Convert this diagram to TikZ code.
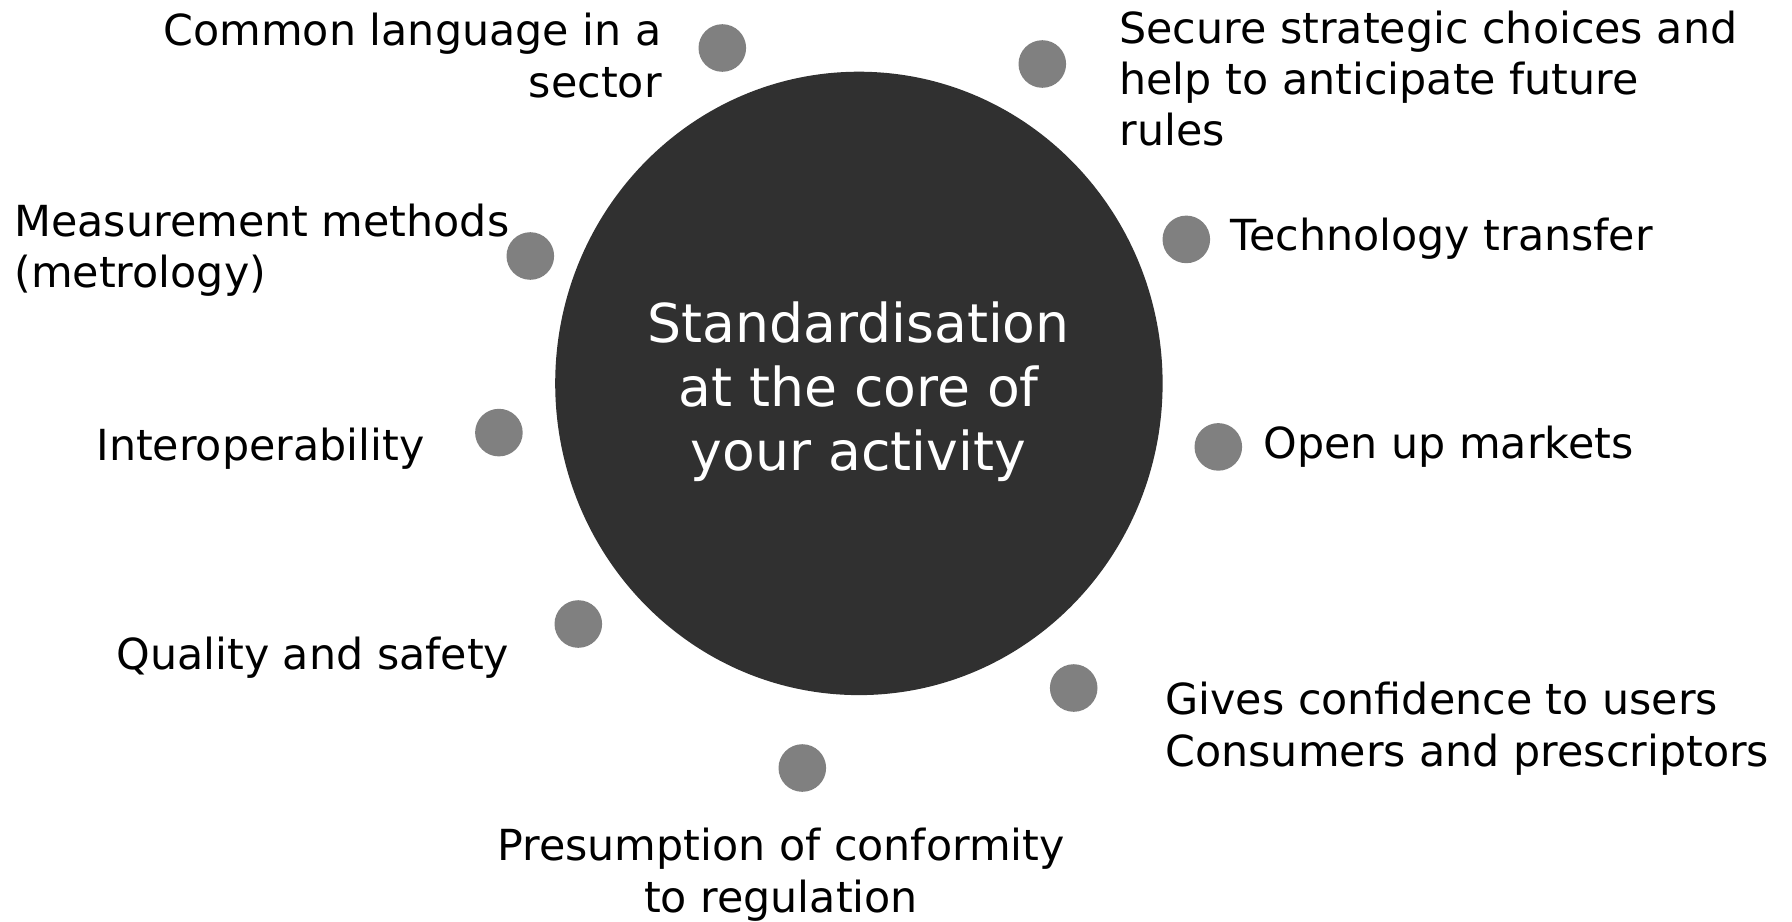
\documentclass[tikz,border=0pt]{standalone}
\usepackage{fontspec}
\setmainfont{DejaVu Sans}
\usetikzlibrary{shapes.geometric}
\definecolor{coregray}{HTML}{303030}
\definecolor{dotgray}{HTML}{808080}
\begin{document}
\begin{tikzpicture}[x=0.5pt,y=-0.5pt,
  dotnode/.style={circle,fill=dotgray,draw=none,inner sep=0pt,minimum size=23.8pt},
  corenode/.style={ellipse,fill=coregray,draw=none,inner sep=0pt,minimum width=303.7pt,minimum height=311.7pt},
  coretxt/.style={inner sep=0pt,text=white,align=center,font=\fontsize{26.8pt}{32pt}\selectfont},
  lbl/.style={inner sep=0pt,text=black,font=\fontsize{21.4pt}{25.6pt}\selectfont}]
\fill[white] (0,0) rectangle (1792,921);
\useasboundingbox (0,0) rectangle (1792,921);
% core
\node[corenode] (core) at (858.9,383.4) {};
\node[coretxt,anchor=base] (coretext) at (858.5,470) {Standardisation\\at the core of\\your activity};
% dots
\node[dotnode] (d1) at (722.3,48) {};
\node[dotnode] (d2) at (1042.3,64) {};
\node[dotnode] (d3) at (530.3,256) {};
\node[dotnode] (d4) at (1186.3,239.4) {};
\node[dotnode] (d5) at (498.9,432.6) {};
\node[dotnode] (d6) at (1218.3,446.9) {};
\node[dotnode] (d7) at (578.3,624) {};
\node[dotnode] (d8) at (1073.7,688) {};
\node[dotnode] (d9) at (802.3,768) {};
% labels (multi-line nodes: base = last line's baseline)
\node[lbl,anchor=base east,align=right] (l1) at (662,97) {Common language in a\\sector};
\node[lbl,anchor=base west,align=left] (l2) at (1119,145.6) {Secure strategic choices and\\help to anticipate future\\rules};
\node[lbl,anchor=base west,align=left] (l3) at (14,287.5) {Measurement methods\\(metrology)};
\node[lbl,anchor=base west] (l4) at (1230,250) {Technology transfer};
\node[lbl,anchor=base west] (l5) at (96,460) {Interoperability};
\node[lbl,anchor=base west] (l6) at (1263,458) {Open up markets};
\node[lbl,anchor=base west] (l7) at (116,669) {Quality and safety};
\node[lbl,anchor=base west,align=left] (l8) at (1165,766) {Gives confidence to users\\Consumers and prescriptors};
\node[lbl,anchor=base,align=center] (l9) at (781,912) {Presumption of conformity\\to regulation};
\end{tikzpicture}
\end{document}
